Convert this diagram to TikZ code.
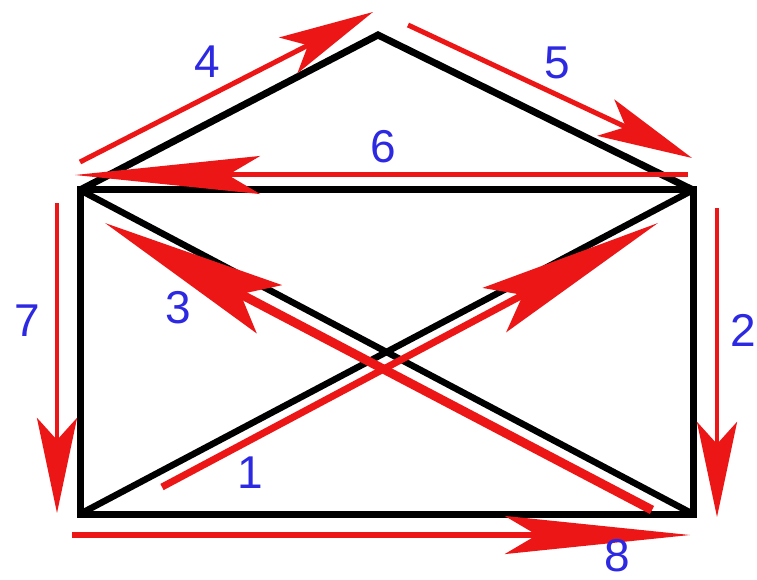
\documentclass[tikz,border=0pt]{standalone}
\usepackage{fontspec}
\setsansfont{Liberation Sans}
\usepackage{xcolor}
\usepackage{tikz}
\usetikzlibrary{arrows.meta}

\definecolor{pathred}{RGB}{236,22,22}
\definecolor{numblue}{RGB}{45,40,225}

\begin{document}
\begin{tikzpicture}[
  x=1pt, y=-1pt,
  outline/.style={line width=7pt, line join=miter, draw=black},
  trace/.style={draw=pathred, line width=5pt,
                -{Stealth[length=95pt 0, width=40pt 0, inset=22pt 0]}},
  tracelong/.style={draw=pathred, line width=5pt,
                -{Stealth[length=185pt 0, width=#1 0, inset=32pt 0]}},
  tracelong/.default=38pt,
  num/.style={font=\sffamily\fontsize{46}{50}\selectfont, text=numblue, inner sep=0pt}
]
\useasboundingbox[fill=white] (0,0) rectangle (757,580);

% corners of the house
\coordinate (tl) at (80,190);
\coordinate (tr) at (693,190);
\coordinate (br) at (693,514);
\coordinate (bl) at (80,514);
\coordinate (apex) at (378,35);

\draw[outline] (bl) -- (br) -- (tr) -- (tl) -- cycle;
\draw[outline] (tl) -- (apex) -- (tr);
\draw[outline, line width=6.5pt] (tl) -- (br);
\draw[outline, line width=6.5pt] (bl) -- (tr);

% ends of the moves
\coordinate (s1) at (162,487);  \coordinate (e1) at (658,223);
\coordinate (s2) at (717,208);  \coordinate (e2) at (717,517);
\coordinate (s3) at (652,510);  \coordinate (e3) at (105,223);
\coordinate (s4) at (80,162);   \coordinate (e4) at (373,12);
\coordinate (s5) at (408,25);   \coordinate (e5) at (692,158);
\coordinate (s6) at (688,175);  \coordinate (e6) at (75,175);
\coordinate (s7) at (57,203);   \coordinate (e7) at (57,513);
\coordinate (s8) at (72,535);   \coordinate (e8) at (690,535);

\draw[tracelong=50pt, line width=7pt] (s1) -- (e1);
\draw[trace, line width=4.5pt] (s2) -- (e2);
\draw[tracelong=54pt, line width=9pt] (s3) -- (e3);
\draw[trace] (s4) -- (e4);
\draw[trace] (s5) -- (e5);
\draw[tracelong] (s6) -- (e6);
\draw[trace, line width=4.5pt] (s7) -- (e7);
\draw[tracelong, line width=6pt] (s8) -- (e8);

\node[num] (n1) at (250,473) {1};
\node[num] (n2) at (743,330) {2};
\node[num] (n3) at (178,308) {3};
\node[num] (n4) at (207,62) {4};
\node[num] (n5) at (557,63) {5};
\node[num] (n6) at (383,147) {6};
\node[num] (n7) at (27,321) {7};
\node[num] (n8) at (617,556) {8};

\end{tikzpicture}
\end{document}
